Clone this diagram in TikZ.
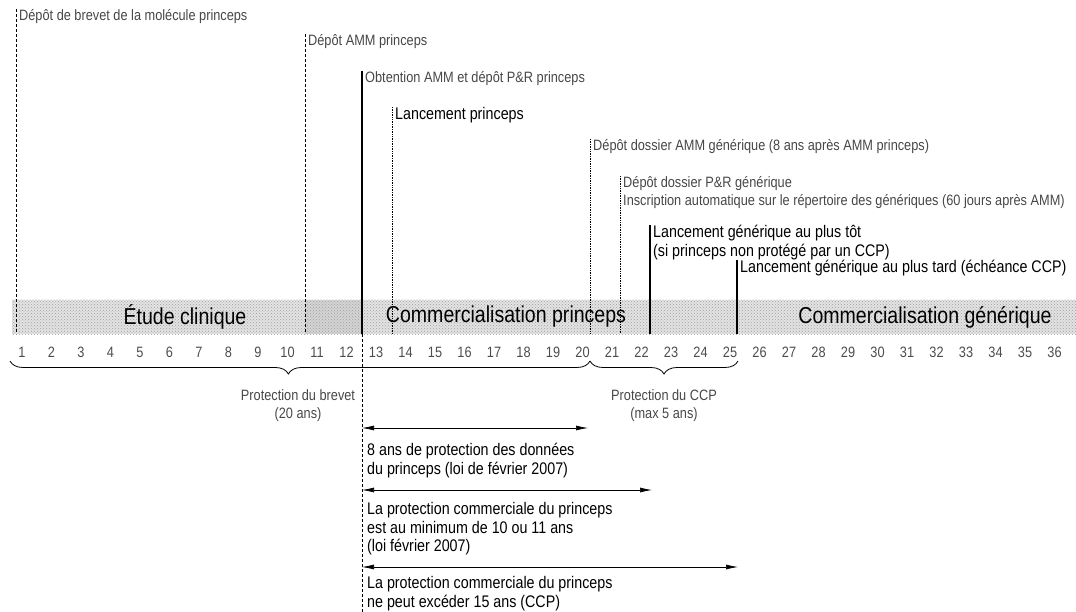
\documentclass[tikz,border=0pt]{standalone}
\usepackage{fontspec}
\setmainfont{Liberation Sans}[FakeStretch=0.85]
\usepackage{tikz}
\usetikzlibrary{arrows.meta,decorations.pathreplacing,patterns,positioning}

\begin{document}
\begin{tikzpicture}
[x=1pt, y=-1pt,
  ev/.style={anchor=north west, inner sep=0pt, align=left, font=\fontsize{16.8}{18.8}\selectfont},
  evlight/.style={ev, font=\fontsize{15}{18}\selectfont, text=black!72},
  phase/.style={font=\fontsize{23}{25}\selectfont},
  yr/.style={font=\fontsize{15}{16}\selectfont, text=black!70},
  marker/.style={line width=1.6pt},
  pending/.style={densely dashed, line width=.5pt},
  filing/.style={densely dotted, line width=.7pt},
  span/.style={<->, >={Latex[length=12pt,width=5pt]}, line width=.7pt},
  period/.style={decorate, decoration={brace, mirror, amplitude=13pt}, line width=.8pt}]
  \useasboundingbox (0,0) rectangle (1076,612);
  % bande des phases
  \fill[gray!22] (12,300) rectangle (1076,334);
  \fill[gray!34] (305,300) rectangle (362,334);
  \fill[pattern=crosshatch dots, pattern color=gray!75] (12,300) rectangle (1076,334);
  \node[phase] (etude) at (185,317) {Étude clinique};
  \node[phase] (commp) at (506,317) {Commercialisation princeps};
  \node[phase] (commg) at (925,317) {Commercialisation générique};

  \foreach \n in {1,...,36}
    \node[yr] (y\n) at ({22+(\n-1)*29.5},352) {\n};

  % jalons
  \node[evlight] (brevet) at (19,9) {Dépôt de brevet de la molécule princeps};
  \node[evlight] (ammdepot) at (308,34) {Dépôt AMM princeps};
  \node[evlight] (amm) at (365,71) {Obtention AMM et dépôt P\&R princeps};
  \node[ev] (lancement) at (395,107) {Lancement princeps};
  \node[evlight] (ammgen) at (593,139) {Dépôt dossier AMM générique (8 ans après AMM princeps)};
  \node[evlight] (prgen) at (623,176) {Dépôt dossier P\&R générique\\Inscription automatique sur le répertoire des génériques (60 jours après AMM)};
  \node[ev] (tot) at (653,225) {Lancement générique au plus tôt\\(si princeps non protégé par un CCP)};
  \node[ev] (tard) at (740,260) {Lancement générique au plus tard (échéance CCP)};

  \coordinate (b1) at (16,334);
  \coordinate (b11) at (305,334);
  \coordinate (b13) at (362,334);
  \coordinate (b14) at (392,334);
  \coordinate (b21) at (590,334);
  \coordinate (b22) at (620,334);
  \coordinate (b23) at (650,334);
  \coordinate (b26) at (737,334);
  \coordinate (foot) at (362,612);
  \draw[pending] (brevet.north west -| b1) -- (b1);
  \draw[pending] (ammdepot.north west -| b11) -- (b11);
  \draw[marker] (amm.north west -| b13) -- (b13);
  \draw[pending] (b13) -- (foot);
  \draw[filing] (lancement.north west -| b14) -- (b14);
  \draw[filing] (ammgen.north west -| b21) -- (b21);
  \draw[filing] (prgen.north west -| b22) -- (b22);
  \draw[marker] (tot.north west -| b23) -- (b23);
  \draw[marker] (tard.north west -| b26) -- (b26);

  % protections
  \coordinate (p0) at (10,361);
  \coordinate (p1) at (590,361);
  \coordinate (p2) at (738,361);
  \draw[period, decoration={aspect=0.48}] (p0) -- (p1);
  \draw[period] (p1) -- (p2);
  \node[evlight, anchor=north, align=center] (brevetlbl) at (298,389) {Protection du brevet\\(20 ans)};
  \node[evlight, anchor=north, align=center] (ccplbl) at (664,389) {Protection du CCP\\(max 5 ans)};

  \coordinate (a1s) at (362,428);
  \coordinate (a1e) at (588,428);
  \coordinate (a2s) at (362,490);
  \coordinate (a2e) at (652,490);
  \coordinate (a3s) at (362,567);
  \coordinate (a3e) at (738,567);
  \draw[span] (a1s) -- (a1e);
  \draw[span] (a2s) -- (a2e);
  \draw[span] (a3s) -- (a3e);
  \node[ev] (donnees) at (367,443) {8 ans de protection des données\\du princeps (loi de février 2007)};
  \node[ev] (mini) at (367,502) {La protection commerciale du princeps\\est au minimum de 10 ou 11 ans\\(loi février 2007)};
  \node[ev] (maxi) at (367,576) {La protection commerciale du princeps\\ne peut excéder 15 ans (CCP)};
\end{tikzpicture}
\end{document}
